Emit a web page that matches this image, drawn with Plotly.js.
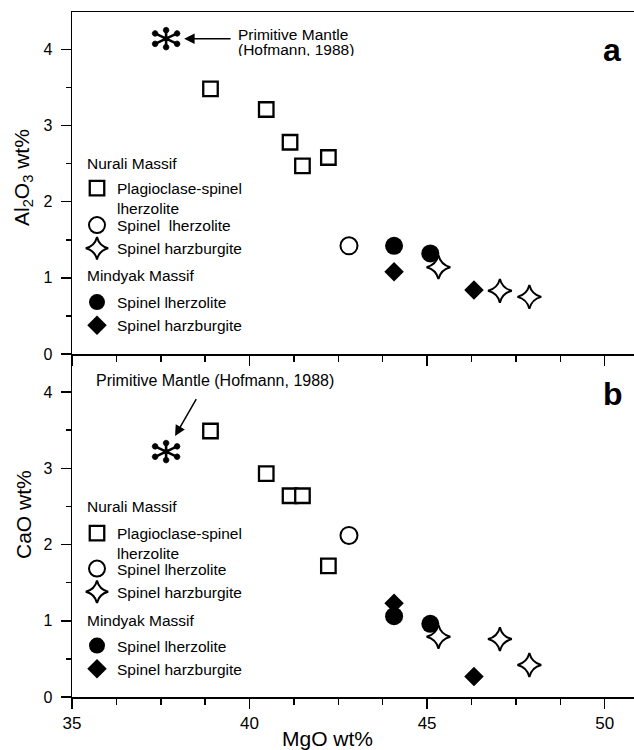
<!DOCTYPE html>
<html><head><meta charset="utf-8">
<script src="https://cdn.plot.ly/plotly-3.0.1.min.js"></script>
<style>html,body{margin:0;padding:0;background:#fff}#chart{width:634px;height:750px}</style>
</head><body><div id="chart"></div>
<script>
// ---- Data ----
const pmMgO = [37.65];
const pmAl2O3 = [4.14];
const pmCaO = [3.22];

const nuraliPlagMgO = [38.9, 40.47, 41.14, 41.49, 42.22];
const nuraliPlagAl2O3 = [3.48, 3.21, 2.78, 2.47, 2.58];
const nuraliPlagCaO = [3.49, 2.93, 2.64, 2.64, 1.72];

const nuraliSpLhzMgO = [42.8];
const nuraliSpLhzAl2O3 = [1.42];
const nuraliSpLhzCaO = [2.12];

const nuraliSpHzbMgO = [45.32, 47.05, 47.88];
const nuraliSpHzbAl2O3 = [1.14, 0.83, 0.75];
const nuraliSpHzbCaO = [0.79, 0.76, 0.42];

const mindyakSpLhzMgO = [44.07, 45.09];
const mindyakSpLhzAl2O3 = [1.42, 1.32];
const mindyakSpLhzCaO = [1.06, 0.96];

const mindyakSpHzbMgO = [44.07, 46.32];
const mindyakSpHzbAl2O3 = [1.08, 0.84];
const mindyakSpHzbCaO = [1.23, 0.27];

const xTickVals = [35, 40, 45, 50];
const yTickVals = [0, 1, 2, 3, 4];

const groupNames = ['Nurali Massif', 'Mindyak Massif'];
const seriesNamesA = ['Plagioclase-spinel<br>lherzolite', 'Spinel\u00A0 lherzolite', 'Spinel harzburgite', 'Spinel lherzolite', 'Spinel harzburgite'];
const seriesNamesB = ['Plagioclase-spinel<br>lherzolite', 'Spinel lherzolite', 'Spinel harzburgite', 'Spinel lherzolite', 'Spinel harzburgite'];
const pmLabel = ['Primitive Mantle', '(Hofmann, 1988)', 'Primitive Mantle (Hofmann, 1988)'];
const panelLetters = ['a', 'b'];

// ---- Geometry helpers (pixel -> paper) ----
const W = 634, H = 750, ML = 72, MR = 0, MT = 12, MB = 53;
const PW = W - ML - MR, PH = H - MT - MB;
const PX = p => (p - ML) / PW;
const PY = p => (H - MB - p) / PH;
const split = PY(354);

const FONT = 'Liberation Sans, Arial, Helvetica, sans-serif';
const black = '#000';

function mk(sym, size, fill, lw) {
  return {symbol: sym, size: size, color: fill, line: {color: black, width: lw}};
}
const styles = {
  plag: mk('square', 14.5, '#fff', 2.3),
  openCirc: mk('circle', 17, '#fff', 2),
  star: mk('star-diamond', 17, '#fff', 2),
  filledCirc: mk('circle', 18, black, 0),
  diamond: mk('diamond', 15, black, 0)
};

function panelTraces(xa, ya, yvals, names, legs) {
  return [
    {type: 'scatter', mode: 'markers', x: nuraliPlagMgO, y: yvals.plag, name: names[0], marker: styles.plag, xaxis: xa, yaxis: ya, legend: legs[0], legendrank: 1},
    {type: 'scatter', mode: 'markers', x: nuraliSpLhzMgO, y: yvals.spl, name: names[1], marker: styles.openCirc, xaxis: xa, yaxis: ya, legend: legs[1], legendrank: 1},
    {type: 'scatter', mode: 'markers', x: mindyakSpLhzMgO, y: yvals.mspl, name: names[3], marker: styles.filledCirc, xaxis: xa, yaxis: ya, legend: legs[2], legendrank: 1},
    {type: 'scatter', mode: 'markers', x: mindyakSpHzbMgO, y: yvals.mhzb, name: names[4], marker: styles.diamond, xaxis: xa, yaxis: ya, legend: legs[2], legendrank: 2},
    {type: 'scatter', mode: 'markers', x: nuraliSpHzbMgO, y: yvals.hzb, name: names[2], marker: styles.star, xaxis: xa, yaxis: ya, legend: legs[1], legendrank: 2},
    {type: 'scatter', mode: 'markers', x: pmMgO, y: yvals.pm, name: 'Primitive Mantle', marker: {symbol: 'circle', size: 5, color: black}, xaxis: xa, yaxis: ya, showlegend: false}
  ];
}

const data = [].concat(
  panelTraces('x', 'y', {plag: nuraliPlagAl2O3, spl: nuraliSpLhzAl2O3, hzb: nuraliSpHzbAl2O3, mspl: mindyakSpLhzAl2O3, mhzb: mindyakSpHzbAl2O3, pm: pmAl2O3}, seriesNamesA, ['legend', 'legend2', 'legend3']),
  panelTraces('x2', 'y2', {plag: nuraliPlagCaO, spl: nuraliSpLhzCaO, hzb: nuraliSpHzbCaO, mspl: mindyakSpLhzCaO, mhzb: mindyakSpHzbCaO, pm: pmCaO}, seriesNamesB, ['legend4', 'legend5', 'legend6'])
);

// asterisk (primitive mantle) drawn as pixel-sized shapes anchored to the data point
function asterisk(xref, yref, x, y) {
  const base = {xref: xref, yref: yref, xsizemode: 'pixel', ysizemode: 'pixel', xanchor: x, yanchor: y, layer: 'above'};
  const spokes = Object.assign({type: 'path', path: 'M0,-8L0,8M-10.5,-5L10.5,5M-10.5,5L10.5,-5', line: {color: black, width: 2.6}}, base);
  const ends = [[0, 8.5], [0, -8.5], [11, 5.2], [-11, 5.2], [11, -5.2], [-11, -5.2]];
  const r = 2.9;
  let d = '';
  ends.forEach(e => {
    for (let k = 0; k < 8; k++) {
      const a = k * Math.PI / 4;
      d += (k === 0 ? 'M' : 'L') + (e[0] + r * Math.cos(a)).toFixed(2) + ',' + (e[1] + r * Math.sin(a)).toFixed(2);
    }
    d += 'Z';
  });
  const dots = Object.assign({type: 'path', path: d, fillcolor: black, line: {color: black, width: 0.8}}, base);
  return [spokes, dots];
}

const axisCommon = {
  range: [35, 35 + PW / 35.51], tick0: 35, dtick: 5, ticks: 'outside', ticklen: 10, tickwidth: 1.5, tickcolor: black,
  showline: true, linecolor: black, linewidth: 1.5, showgrid: false, zeroline: false,
  minor: {dtick: 1.25, ticks: 'outside', ticklen: 6, tickwidth: 1.5, tickcolor: black, showgrid: false},
  tickfont: {family: FONT, size: 17, color: black}, fixedrange: true
};
const yCommon = {
  tick0: 0, dtick: 1, ticks: 'outside', ticklen: 10, tickwidth: 1.5, tickcolor: black,
  showline: true, linecolor: black, linewidth: 1.5, showgrid: false, zeroline: false,
  minor: {dtick: 0.5, ticks: 'outside', ticklen: 5, tickwidth: 1.5, tickcolor: black, showgrid: false},
  tickfont: {family: FONT, size: 16, color: black}, ticklabelstandoff: 5, fixedrange: true
};

function legendAt(leftPx, topPx) {
  return {x: PX(leftPx), y: PY(topPx), xanchor: 'left', yanchor: 'top', bgcolor: 'rgba(0,0,0,0)', borderwidth: 0,
    font: {family: FONT, size: 15.5, color: black}, valign: 'top', tracegroupgap: 0, itemclick: false, itemdoubleclick: false};
}

function txt(text, xPx, yPx, size, opts) {
  return Object.assign({text: text, xref: 'paper', yref: 'paper', x: PX(xPx), y: PY(yPx), showarrow: false,
    xanchor: 'left', yanchor: 'middle', font: {family: FONT, size: size, color: black}}, opts || {});
}

const annotations = [
  txt(pmLabel[0], 236, 34, 15.5, {height: 13}),
  txt(pmLabel[1], 236, 49.5, 15.5, {height: 13}),
  txt(pmLabel[2], 94, 380.5, 16),
  {xref: 'x', yref: 'y', x: pmMgO[0], y: pmAl2O3[0], ax: 66, ay: 0, text: '', showarrow: true, arrowhead: 2, arrowsize: 1.4, arrowwidth: 1.5, arrowcolor: black, standoff: 18},
  {xref: 'x2', yref: 'y2', x: pmMgO[0], y: pmCaO[0], ax: 31, ay: -54, text: '', showarrow: true, arrowhead: 2, arrowsize: 1.4, arrowwidth: 1.5, arrowcolor: black, standoff: 18},
  txt(groupNames[0], 85, 163, 15.5),
  txt(groupNames[1], 85, 275, 15.5),
  txt(groupNames[0], 85, 506, 15.5),
  txt(groupNames[1], 85, 620, 15.5),
  txt('<b>' + panelLetters[0] + '</b>', 612, 50, 32, {xanchor: 'center'}),
  txt('<b>' + panelLetters[1] + '</b>', 613, 394, 32, {xanchor: 'center'}),
  txt('MgO wt%', 327, 738, 21, {xanchor: 'center'}),
  txt('Al<sub>2</sub>O<sub>3</sub> wt%', 23, 178, 21, {xanchor: 'center', textangle: -90}),
  txt('CaO wt%', 23, 515, 21, {xanchor: 'center', textangle: -90})
];

const layout = {
  width: W, height: H, margin: {l: ML, r: MR, t: MT, b: MB}, paper_bgcolor: '#fff', plot_bgcolor: '#fff',
  font: {family: FONT, color: black},
  xaxis: Object.assign({}, axisCommon, {anchor: 'y', showticklabels: false, mirror: true}),
  yaxis: Object.assign({}, yCommon, {domain: [split, 1], range: [0, 4.49], anchor: 'x', tickvals: yTickVals}),
  xaxis2: Object.assign({}, axisCommon, {anchor: 'y2', tickvals: xTickVals}),
  yaxis2: Object.assign({}, yCommon, {domain: [0, split], range: [0, 4.5], anchor: 'x2', tickvals: yTickVals}),
  legend: legendAt(77, 171.5),
  legend2: legendAt(77, 208.5),
  legend3: legendAt(77, 285.5),
  legend4: legendAt(77, 516.5),
  legend5: legendAt(77, 552),
  legend6: legendAt(77, 629),
  annotations: annotations,
  shapes: [].concat(asterisk('x', 'y', pmMgO[0], pmAl2O3[0]), asterisk('x2', 'y2', pmMgO[0], pmCaO[0])),
  showlegend: true
};

Plotly.newPlot('chart', data, layout, {displayModeBar: false, staticPlot: true});
</script></body></html>
